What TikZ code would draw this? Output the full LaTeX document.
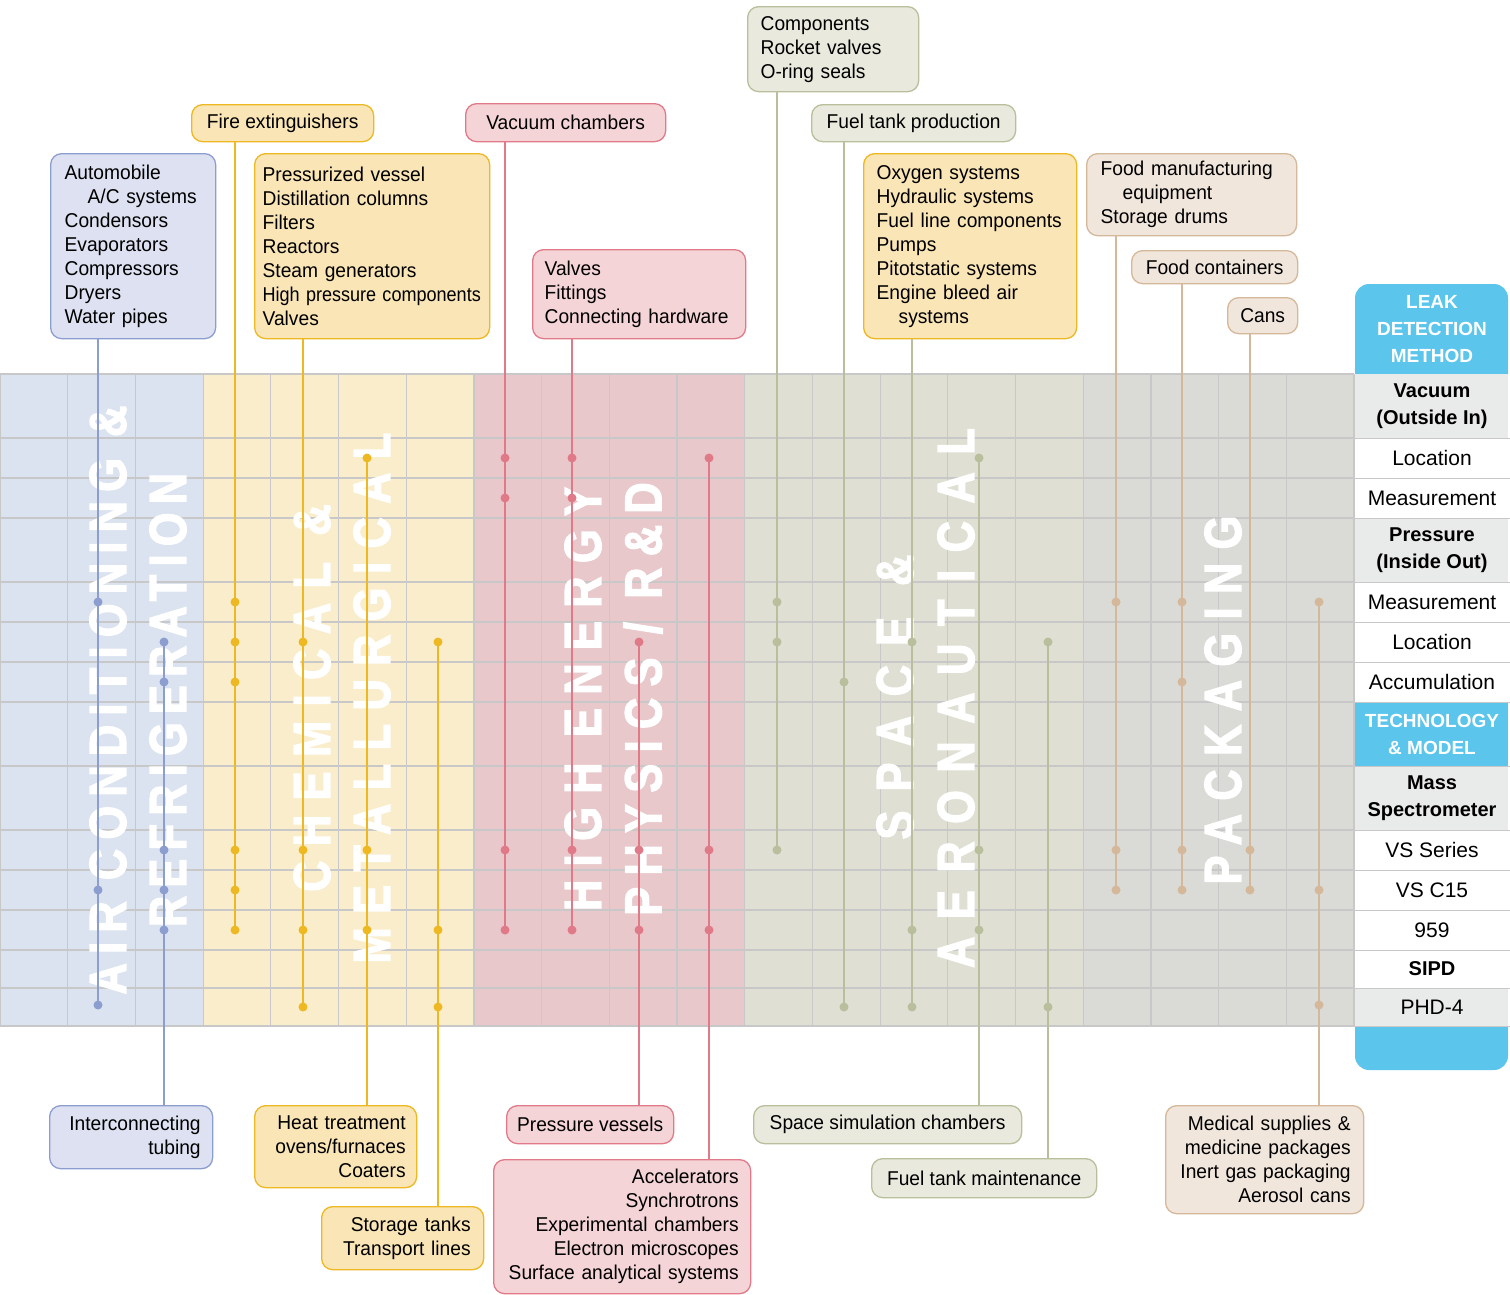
\documentclass[tikz,border=0pt]{standalone}
\usepackage{fontspec}
\setmainfont{Liberation Sans}[FakeStretch=0.96]
\newfontfamily\tabfont{Liberation Sans}
\newfontfamily\bandfont{Liberation Sans Bold}[FakeStretch=0.83, FakeBold=2.5]

\definecolor{acband}{HTML}{DAE3EF}
\definecolor{chband}{HTML}{FAEDCB}
\definecolor{heband}{HTML}{E8C8CA}
\definecolor{spband}{HTML}{DFE0D3}
\definecolor{pkband}{HTML}{DADAD6}
\definecolor{gridgray}{HTML}{C8C8C8}
\definecolor{acline}{HTML}{8C9ED0}
\definecolor{acfill}{HTML}{DEE1F1}
\definecolor{chline}{HTML}{EDB822}
\definecolor{chfill}{HTML}{F9E5B5}
\definecolor{heline}{HTML}{E07A89}
\definecolor{hefill}{HTML}{F5D4D7}
\definecolor{spline}{HTML}{B9BF9C}
\definecolor{spfill}{HTML}{E9EADD}
\definecolor{pkline}{HTML}{D5B899}
\definecolor{pkfill}{HTML}{F1E6DC}
\definecolor{tblue}{HTML}{5BC5EC}
\definecolor{tgray}{HTML}{E9EAEA}

\newcommand\bandtxt[1]{\bandfont\fontsize{52}{52}\selectfont\addfontfeatures{LetterSpace=#1}}

\begin{document}
\begin{tikzpicture}[x=1pt,y=-1pt]
  \tikzset{sz/.style 2 args={minimum width=#1pt, minimum height=#2pt}}
  \tikzstyle{tag}=[draw, line width=1.3pt, rounded corners=11pt, anchor=north west, inner sep=0pt, font=\fontsize{20}{24}\selectfont]
  \tikzstyle{ac}=[tag, draw=acline, fill=acfill]
  \tikzstyle{ch}=[tag, draw=chline, fill=chfill]
  \tikzstyle{he}=[tag, draw=heline, fill=hefill]
  \tikzstyle{sp}=[tag, draw=spline, fill=spfill]
  \tikzstyle{pk}=[tag, draw=pkline, fill=pkfill]
  \tikzstyle{gridline}=[gridgray, line width=1.2pt]
  \tikzstyle{band}=[white, rotate=90, inner sep=0pt]
  \tikzstyle{cell}=[align=center, font=\tabfont\fontsize{21}{27}\selectfont]
  \tikzstyle{head}=[white, align=center, font=\tabfont\bfseries\fontsize{19}{27}\selectfont]
  \tikzstyle{link}=[line width=1.5pt]

  \fill[white] (0,0) rectangle (1510,1294);
  \useasboundingbox (0,0) rectangle (1510,1294);

  % industry bands and grid
  \fill[acband] (0,374) rectangle (203.1,1026);
  \fill[chband] (203.1,374) rectangle (473.9,1026);
  \fill[heband] (473.9,374) rectangle (744.7,1026);
  \fill[spband] (744.7,374) rectangle (1083.2,1026);
  \fill[pkband] (1083.2,374) rectangle (1354,1026);
  \foreach \i in {0,...,20} \draw[gridline] (\i*67.7,374) -- (\i*67.7,1026);
  \foreach \y in {374,438,478,518,582,622,662,702,766,830,870,910,950,988,1026}
    \draw[gridline] (0,\y) -- (1354,\y);

  \node[band, font=\bandtxt{18}] (acname) at (108,700) {AIR CONDITIONING \&};
  \node[band, font=\bandtxt{16}] (rfname) at (168,700) {REFRIGERATION};
  \node[band, font=\bandtxt{28}] (chname) at (312,698) {CHEMICAL \&};
  \node[band, font=\bandtxt{26}] (mtname) at (372,698) {METALLURGICAL};
  \node[band, font=\bandtxt{26}] (hename) at (583,699) {HIGH ENERGY};
  \node[band, font=\bandtxt{22}] (phname) at (643,699) {PHYSICS / R\&D};
  \node[band, font=\bandtxt{37}] (spname) at (895,697) {SPACE \&};
  \node[band, font=\bandtxt{34}] (aename) at (956,698) {AERONAUTICAL};
  \node[band, font=\bandtxt{26}] (pkname) at (1223,700) {PACKAGING};

  % application boxes, top
  \node[ac, sz={165}{185}, inner xsep=14pt, text width=137pt, align=left] (auto) at (50,153)
    {Automobile\\\hspace*{23pt}A/C systems\\Condensors\\Evaporators\\Compressors\\Dryers\\Water pipes};
  \node[ch, sz={182}{37}] (fire) at (191,104) {Fire extinguishers};
  \node[ch, sz={235}{185}, inner xsep=8pt, text width=219pt, align=left] (pvessel) at (254,153)
    {Pressurized vessel\\Distillation columns\\Filters\\Reactors\\Steam generators\\\scalebox{0.94}[1]{High pressure components}\\Valves};
  \node[he, sz={200}{38}] (vacch) at (465,103) {Vacuum chambers};
  \node[he, sz={213}{89}, inner xsep=12pt, text width=189pt, align=left] (valves) at (532,249)
    {Valves\\Fittings\\Connecting hardware};
  \node[sp, sz={171}{85}, inner xsep=13pt, text width=145pt, align=left] (comp) at (747,6)
    {Components\\Rocket valves\\O-ring seals};
  \node[sp, sz={204}{37}] (fueltp) at (811,104) {Fuel tank production};
  \node[ch, sz={213}{185}, inner xsep=13pt, text width=187pt, align=left] (oxygen) at (863,153)
    {Oxygen systems\\Hydraulic systems\\Fuel line components\\Pumps\\Pitotstatic systems\\Engine bleed air\\\hspace*{22pt}systems};
  \node[pk, sz={210}{82}, inner xsep=14pt, text width=182pt, align=left] (food) at (1086,153)
    {Food manufacturing\\\hspace*{22pt}equipment\\Storage drums};
  \node[pk, sz={166}{33}] (foodc) at (1131,250) {Food containers};
  \node[pk, sz={70}{36}] (cans) at (1227,297) {Cans};

  % application boxes, bottom
  \node[ac, sz={163}{63}, inner xsep=12pt, text width=139pt, align=right] (intercon) at (49,1105)
    {Interconnecting\\tubing};
  \node[ch, sz={162}{82}, inner xsep=11pt, text width=140pt, align=right] (heat) at (254,1105)
    {Heat treatment\\ovens/furnaces\\Coaters};
  \node[ch, sz={162}{63}, inner xsep=13pt, text width=136pt, align=right] (storage) at (321,1206)
    {Storage tanks\\Transport lines};
  \node[he, sz={167}{38}] (pressv) at (506,1105) {Pressure vessels};
  \node[he, sz={257}{134}, inner xsep=12pt, text width=233pt, align=right] (accel) at (493,1159)
    {Accelerators\\Synchrotrons\\Experimental chambers\\Electron microscopes\\Surface analytical systems};
  \node[sp, sz={268}{38}] (spacesim) at (753,1105) {Space simulation chambers};
  \node[sp, sz={225}{39}] (fueltm) at (871,1158) {Fuel tank maintenance};
  \node[pk, sz={198}{108}, inner xsep=13pt, text width=172pt, align=right] (medical) at (1165,1105)
    {Medical supplies \&\\medicine packages\\Inert gas packaging\\Aerosol cans};

  % connectors
  \coordinate (l1) at (98,1005);   \coordinate (l2) at (164,642);
  \coordinate (l3) at (235,930);   \coordinate (l4) at (303,1007);
  \coordinate (l5) at (367,458);   \coordinate (l6) at (438,642);
  \coordinate (l7) at (505,930);   \coordinate (l8) at (572,930);
  \coordinate (l9) at (639,642);   \coordinate (l10) at (709,458);
  \coordinate (l11) at (777,850);  \coordinate (l12) at (844,1007);
  \coordinate (l13) at (912,1007); \coordinate (l14) at (979,458);
  \coordinate (l15) at (1048,642); \coordinate (l16) at (1116,890);
  \coordinate (l17) at (1182,890); \coordinate (l18) at (1250,890);
  \coordinate (l19) at (1319,602);
  \draw[link, acline] (auto.south -| l1) -- (l1);
  \draw[link, acline] (l2) -- (intercon.north -| l2);
  \draw[link, chline] (fire.south -| l3) -- (l3);
  \draw[link, chline] (pvessel.south -| l4) -- (l4);
  \draw[link, chline] (l5) -- (heat.north -| l5);
  \draw[link, chline] (l6) -- (storage.north -| l6);
  \draw[link, heline] (vacch.south -| l7) -- (l7);
  \draw[link, heline] (valves.south -| l8) -- (l8);
  \draw[link, heline] (l9) -- (pressv.north -| l9);
  \draw[link, heline] (l10) -- (accel.north -| l10);
  \draw[link, spline] (comp.south -| l11) -- (l11);
  \draw[link, spline] (fueltp.south -| l12) -- (l12);
  \draw[link, spline] (oxygen.south -| l13) -- (l13);
  \draw[link, spline] (l14) -- (spacesim.north -| l14);
  \draw[link, spline] (l15) -- (fueltm.north -| l15);
  \draw[link, pkline] (food.south -| l16) -- (l16);
  \draw[link, pkline] (foodc.south -| l17) -- (l17);
  \draw[link, pkline] (cans.south -| l18) -- (l18);
  \draw[link, pkline] (l19) -- (medical.north -| l19);

  % dots where a method applies
  \foreach \x/\ys in {98/{602,890,1005}, 164/{642,682,850,890,930}}
    \foreach \y in \ys \fill[acline] (\x,\y) circle (4.5pt);
  \foreach \x/\ys in {235/{602,642,682,850,890,930}, 303/{642,850,930,1007}, 367/{458,850,930}, 438/{642,930,1007}}
    \foreach \y in \ys \fill[chline] (\x,\y) circle (4.5pt);
  \foreach \x/\ys in {505/{458,498,850,930}, 572/{458,498,850,930}, 639/{642,850,930}, 709/{458,850,930}}
    \foreach \y in \ys \fill[heline] (\x,\y) circle (4.5pt);
  \foreach \x/\ys in {777/{602,642,850}, 844/{682,1007}, 912/{642,930,1007}, 979/{458,850,930}, 1048/{642,1007}}
    \foreach \y in \ys \fill[spline] (\x,\y) circle (4.5pt);
  \foreach \x/\ys in {1116/{602,850,890}, 1182/{602,682,850,890}, 1250/{850,890}, 1319/{602,890,1005}}
    \foreach \y in \ys \fill[pkline] (\x,\y) circle (4.5pt);

  % method / model table
  \fill[tblue, rounded corners=14pt] (1355,284) rectangle (1508,374);
  \fill[tblue] (1355,330) rectangle (1508,374);
  \fill[tblue, rounded corners=14pt] (1355,1026) rectangle (1508,1070);
  \fill[tblue] (1355,1026) rectangle (1508,1050);
  \foreach \a/\b/\c in {374/438/tgray, 438/478/white, 478/518/white, 518/582/tgray, 582/622/white,
      622/662/white, 662/702/white, 702/766/tblue, 766/830/tgray, 830/870/white, 870/910/white,
      910/950/white, 950/988/white, 988/1026/tgray}
    \fill[\c] (1355,\a) rectangle (1508,\b);
  \foreach \y in {438,478,518,582,622,662,702,766,830,870,910,950,988,1026}
    \draw[gridline, line width=1pt] (1354,\y) -- (1510,\y);

  \node[head] (ldm) at (1432,329) {LEAK\\DETECTION\\METHOD};
  \node[cell, font=\tabfont\bfseries\fontsize{20}{27}\selectfont] (vac) at (1432,406) {Vacuum\\(Outside In)};
  \node[cell] (vacloc) at (1432,458) {Location};
  \node[cell] (vacmeas) at (1432,498) {Measurement};
  \node[cell, font=\tabfont\bfseries\fontsize{20}{27}\selectfont] (prs) at (1432,550) {Pressure\\(Inside Out)};
  \node[cell] (prsmeas) at (1432,602) {Measurement};
  \node[cell] (prsloc) at (1432,642) {Location};
  \node[cell] (prsacc) at (1432,682) {Accumulation};
  \node[head] (tam) at (1432,734) {TECHNOLOGY\\\& MODEL};
  \node[cell, font=\tabfont\bfseries\fontsize{20}{27}\selectfont] (ms) at (1432,798) {Mass\\Spectrometer};
  \node[cell] (vss) at (1432,850) {VS Series};
  \node[cell] (vsc) at (1432,890) {VS C15};
  \node[cell] (m959) at (1432,930) {959};
  \node[cell, font=\tabfont\bfseries\fontsize{20}{27}\selectfont] (sipd) at (1432,969) {SIPD};
  \node[cell] (phd) at (1432,1007) {PHD-4};
\end{tikzpicture}
\end{document}
